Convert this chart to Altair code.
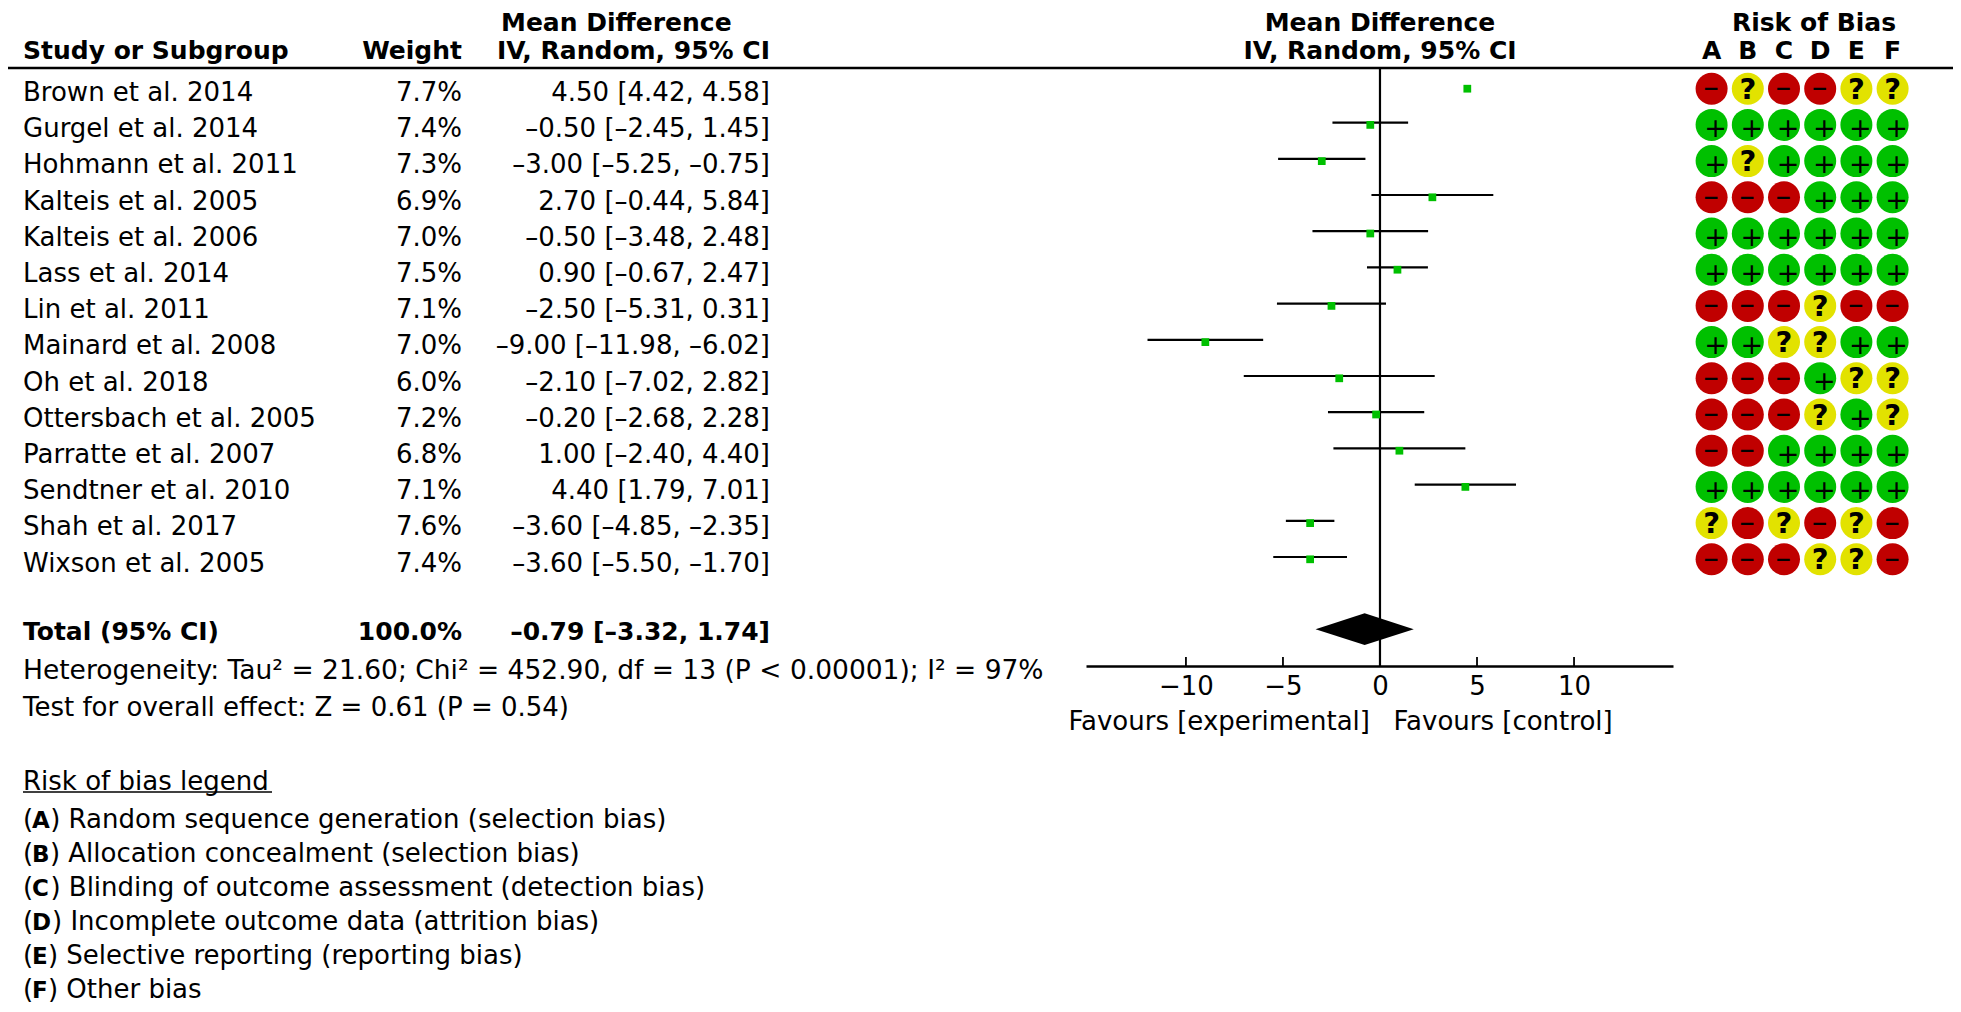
import altair as alt
import pandas as pd

studies = ["Brown et al. 2014", "Gurgel et al. 2014", "Hohmann et al. 2011", "Kalteis et al. 2005",
           "Kalteis et al. 2006", "Lass et al. 2014", "Lin et al. 2011", "Mainard et al. 2008",
           "Oh et al. 2018", "Ottersbach et al. 2005", "Parratte et al. 2007", "Sendtner et al. 2010",
           "Shah et al. 2017", "Wixson et al. 2005"]
weights = [7.7, 7.4, 7.3, 6.9, 7.0, 7.5, 7.1, 7.0, 6.0, 7.2, 6.8, 7.1, 7.6, 7.4]
means = [4.50, -0.50, -3.00, 2.70, -0.50, 0.90, -2.50, -9.00, -2.10, -0.20, 1.00, 4.40, -3.60, -3.60]
lows = [4.42, -2.45, -5.25, -0.44, -3.48, -0.67, -5.31, -11.98, -7.02, -2.68, -2.40, 1.79, -4.85, -5.50]
highs = [4.58, 1.45, -0.75, 5.84, 2.48, 2.47, 0.31, -6.02, 2.82, 2.28, 4.40, 7.01, -2.35, -1.70]
bias = ["-?--??", "++++++", "+?++++", "---+++", "++++++", "++++++", "---?--",
        "++??++", "---+??", "---?+?", "--++++", "++++++", "?-?-?-", "---??-"]
domains = list("ABCDEF")
ticks = [-10, -5, 0, 5, 10]
legend_items = ["Random sequence generation (selection bias)", "Allocation concealment (selection bias)",
                "Blinding of outcome assessment (detection bias)", "Incomplete outcome data (attrition bias)",
                "Selective reporting (reporting bias)", "Other bias"]
total = {"mean": -0.79, "low": -3.32, "high": 1.74}

FONT = "DejaVu Sans"
FS = 26
FB = 25
W, H = 1945, 996
PX_ROW = 36.2
Y0 = 80.7
LEGEND_TEXT_X = [42.2, 41.9, 42.4, 44, 39.9, 39.9]
yscale = alt.Scale(domain=[-Y0 / PX_ROW, (H - Y0) / PX_ROW], range=[0, H], nice=False, zero=False)
xscale = alt.Scale(domain=[-15.15, 15.1], range=[1078, 1665], nice=False, zero=False)
bscale = alt.Scale(type="point", domain=domains, range=[1703.6, 1884.6], padding=0)
Y = lambda f="row": alt.Y(f"{f}:Q", scale=yscale, axis=None)
X = lambda f: alt.X(f"{f}:Q", scale=xscale, axis=None)

def m(v):
    return f"{v:.2f}".replace("-", "\u2013")

rows = pd.DataFrame({"row": range(14), "study": studies, "mean": means, "low": lows, "high": highs,
                     "w": [f"{w:.1f}%" for w in weights],
                     "ci": [f"{m(a)} [{m(b)}, {m(c)}]" for a, b, c in zip(means, lows, highs)]})
cells = pd.DataFrame([{"row": i, "dom": d, "s": s[j]} for i, s in enumerate(bias) for j, d in enumerate(domains)])


def text(df, field, x, align="left", weight="normal", size=None, dy=12.3):
    size = size or (FB if weight == "bold" else FS)
    return alt.Chart(df).mark_text(font=FONT, fontSize=size, fontWeight=weight, align=align,
                                   baseline="alphabetic", dy=dy, color="black").encode(
        x=alt.value(x), y=Y(), text=f"{field}:N")

def one(label, row, x, **k):
    return text(pd.DataFrame({"row": [row], "t": [label]}), "t", x, **k)

layers = []
# table
layers += [text(rows, "study", 15), text(rows, "w", 454, align="right"), text(rows, "ci", 762, align="right")]
layers += [one("Mean Difference", -1.93, 493, weight="bold"),
           one("Study or Subgroup", -1.16, 15, weight="bold"), one("Weight", -1.16, 454, align="right", weight="bold"),
           one("IV, Random, 95% CI", -1.16, 762, align="right", weight="bold"),
           one("Mean Difference", -1.93, 1372, align="center", weight="bold"),
           one("IV, Random, 95% CI", -1.16, 1372, align="center", weight="bold"),
           one("Risk of Bias", -1.93, 1806, align="center", weight="bold")]
layers.append(alt.Chart(pd.DataFrame({"d": domains, "row": -1.16})).mark_text(
    font=FONT, fontSize=FB, fontWeight="bold", baseline="alphabetic", dy=12.3, color="black").encode(
    x=alt.X("d:N", scale=bscale, axis=None), y=Y(), text="d:N"))
# header rule
layers.append(alt.Chart(pd.DataFrame({"row": [-0.57]})).mark_rule(color="black", strokeWidth=2.5).encode(
    x=alt.value(0), x2=alt.value(W), y=Y()))
# totals and notes
layers += [one("Total (95% CI)", 14.88, 15, weight="bold"), one("100.0%", 14.88, 454, align="right", weight="bold"),
           one(f"{m(total['mean'])} [{m(total['low'])}, {m(total['high'])}]", 14.88, 762, align="right", weight="bold"),
           one("Heterogeneity: Tau\u00b2 = 21.60; Chi\u00b2 = 452.90, df = 13 (P < 0.00001); I\u00b2 = 97%", 15.98, 15, size=26.5),
           one("Test for overall effect: Z = 0.61 (P = 0.54)", 16.98, 15),
           one("Risk of bias legend", 19.02, 15)]
layers.append(alt.Chart(pd.DataFrame({"row": [19.43]})).mark_rule(color="black", strokeWidth=1.5).encode(
    x=alt.value(15), x2=alt.value(264), y=Y()))
for i, (d, item) in enumerate(zip(domains, legend_items)):
    r = 20.09 + i * 0.938
    layers += [one("(", r, 15), one(d, r, 24, weight="bold", size=23), one(") " + item, r, LEGEND_TEXT_X[i])]
# forest
layers.append(alt.Chart(pd.DataFrame({"x": [0], "a": [-0.57], "b": [15.95]})).mark_rule(
    color="black", strokeWidth=2.2).encode(x=X("x"), y=Y("a"), y2="b:Q"))
layers.append(alt.Chart(rows).mark_rule(color="black", strokeWidth=2.2, yOffset=-2.3).encode(
    x=X("low"), x2="high:Q", y=Y()))
layers.append(alt.Chart(rows).mark_square(color="#00c000", size=60, opacity=1).encode(x=X("mean"), y=Y()))
dia = pd.DataFrame({"x": [total["low"], total["mean"], total["high"]], "a": [14.93, 14.49, 14.93], "b": [14.93, 15.37, 14.93]})
layers.append(alt.Chart(dia).mark_area(color="black", opacity=1).encode(
    x=X("x"), y=Y("a"), y2="b:Q"))
tk = pd.DataFrame({"x": ticks, "a": 15.7, "b": 15.95})
layers.append(alt.Chart(tk).mark_rule(color="black", strokeWidth=1.8).encode(x=X("x"), y=Y("a"), y2="b:Q"))
AXIS_Y = 658
layers.append(alt.Chart(tk).mark_rule(opacity=0).encode(
    x=alt.X("x:Q", scale=xscale, axis=alt.Axis(values=ticks, orient="bottom", offset=AXIS_Y - H, grid=False, title=None,
        domainColor="black", domainWidth=2.5, tickSize=0, labelFont=FONT, labelFontSize=FS, labelColor="black",
        labelPadding=7, labelOverlap=False, labelFlush=False)),
    y=Y("a")))
layers += [one("Favours [experimental]", 17.37, 1362, align="right"), one("Favours [control]", 17.37, 1385.5)]
# risk of bias
colors = {"+": "#00c000", "-": "#c00000", "?": "#e2e200"}
layers.append(alt.Chart(cells).mark_circle(size=1024, opacity=1).encode(
    x=alt.X("dom:N", scale=bscale, axis=None), y=Y(),
    color=alt.Color("s:N", scale=alt.Scale(domain=list(colors), range=list(colors.values())), legend=None)))
for sym, lab, fs, fw, dx, dy in [("+", "+", 27, "normal", 4, 4), ("-", "\u2212", 20, "bold", -0.6, 0.5), ("?", "?", 29, "bold", 0, 1)]:
    layers.append(alt.Chart(cells[cells.s == sym].assign(t=lab)).mark_text(
        font=FONT, fontSize=fs, fontWeight=fw, baseline="middle", dx=dx, dy=dy, color="black").encode(
        x=alt.X("dom:N", scale=bscale, axis=None), y=Y(), text="t:N"))

chart = alt.layer(*layers).resolve_scale(x="independent", color="independent").properties(
    width=W, height=H, padding=0, autosize=alt.AutoSizeParams(type="none")
).configure_view(stroke=None)

chart.save("out.html", embed_options={"renderer": "svg", "actions": False})
